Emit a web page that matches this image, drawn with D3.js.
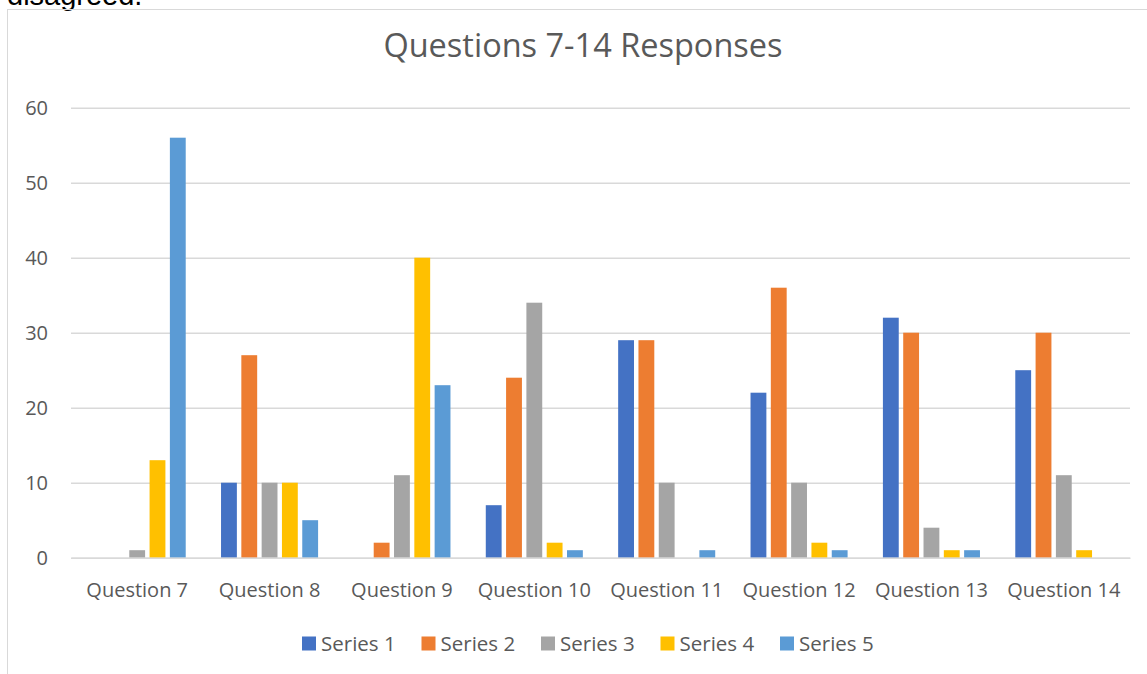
<!DOCTYPE html>
<html>
<head>
<meta charset="utf-8">
<script src="https://cdn.jsdelivr.net/npm/d3@7"></script>
<style>
  body { margin: 0; background: #fff; }
  svg { display: block; font-family: "Open Sans", sans-serif; }
</style>
</head>
<body>
<div id="chart"></div>
<script>
const categories = ["Question 7", "Question 8", "Question 9", "Question 10",
  "Question 11", "Question 12", "Question 13", "Question 14"]
const seriesNames = ["Series 1", "Series 2", "Series 3", "Series 4", "Series 5"]

// one array per series, in category order
const series1 = [0, 10, 0, 7, 29, 22, 32, 25]
const series2 = [0, 27, 2, 24, 29, 36, 30, 30]
const series3 = [1, 10, 11, 34, 10, 10, 4, 11]
const series4 = [13, 10, 40, 2, 0, 2, 1, 1]
const series5 = [56, 5, 23, 1, 1, 1, 1, 0]

const yTicks = [0, 10, 20, 30, 40, 50, 60]
const colors = ["#4472C4", "#ED7D31", "#A5A5A5", "#FFC000", "#5B9BD5"]

const allSeries = [series1, series2, series3, series4, series5]
const data = categories.map((cat, i) => ({
  cat,
  values: seriesNames.map((s, j) => ({ s, v: allSeries[j][i] }))
}))

const W = 1147, H = 674
const svg = d3.select('#chart').append('svg')
  .attr('width', W).attr('height', H)
  .attr('viewBox', [0, 0, W, H])

// text cut off above the chart
svg.append('text')
  .attr('x', 7).attr('y', 5)
  .attr('font-size', 29)
  .attr('font-family', '"Liberation Sans", Arial, sans-serif')
  .attr('fill', '#000')
  .text('disagreed.')

// chart frame
svg.append('rect')
  .attr('x', 7.5).attr('y', 9.5)
  .attr('width', 1150).attr('height', 700)
  .attr('fill', 'none')
  .attr('stroke', '#d9d9d9')

svg.append('text')
  .attr('x', 583).attr('y', 57)
  .attr('text-anchor', 'middle')
  .attr('font-size', 32.5)
  .attr('fill', '#595959')
  .text('Questions 7-14 Responses')

const x0 = d3.scaleBand()
  .domain(categories)
  .range([71, 1130])
  .paddingInner(0.233)
  .paddingOuter(0.1165)

const x1 = d3.scaleBand()
  .domain(seriesNames)
  .range([0, x0.bandwidth()])
  .paddingInner(0.22)
  .paddingOuter(0.11)

const y = d3.scaleLinear()
  .domain([0, 60])
  .range([557.7, 107.7])

const color = d3.scaleOrdinal().domain(seriesNames).range(colors)

// gridlines + y labels
const yAxis = svg.append('g')
  .attr('transform', 'translate(71,0)')
  .call(d3.axisLeft(y).tickValues(yTicks).tickSize(-(1130 - 71)).tickPadding(23))
yAxis.select('.domain').remove()
yAxis.selectAll('.tick line').attr('stroke', '#d9d9d9').attr('stroke-width', 1.5)
yAxis.selectAll('.tick text')
  .attr('font-size', 20).attr('fill', '#595959')
  .attr('font-family', '"Open Sans", sans-serif')

// bars
svg.append('g')
  .selectAll('g')
  .data(data)
  .join('g')
  .attr('transform', d => `translate(${x0(d.cat)},0)`)
  .selectAll('rect')
  .data(d => d.values)
  .join('rect')
  .attr('x', d => x1(d.s))
  .attr('y', d => y(d.v))
  .attr('width', x1.bandwidth())
  .attr('height', d => y(0) - y(d.v))
  .attr('fill', d => color(d.s))

// x axis line + category labels
const xAxis = svg.append('g')
  .attr('transform', `translate(0,${y(0)})`)
  .call(d3.axisBottom(x0).tickSize(0).tickPadding(25))
xAxis.select('.domain').attr('stroke', '#d9d9d9').attr('stroke-width', 1.5)
xAxis.selectAll('.tick text')
  .attr('font-size', 20).attr('fill', '#595959')
  .attr('font-family', '"Open Sans", sans-serif')

// legend
const legend = svg.append('g')
  .selectAll('g')
  .data(seriesNames)
  .join('g')
  .attr('transform', (d, i) => `translate(${302 + i * 119.5},636.5)`)
legend.append('rect')
  .attr('width', 14).attr('height', 14)
  .attr('fill', d => color(d))
legend.append('text')
  .attr('x', 19).attr('y', 14)
  .attr('font-size', 20.5).attr('fill', '#595959')
  .text(d => d)
</script>
</body>
</html>
